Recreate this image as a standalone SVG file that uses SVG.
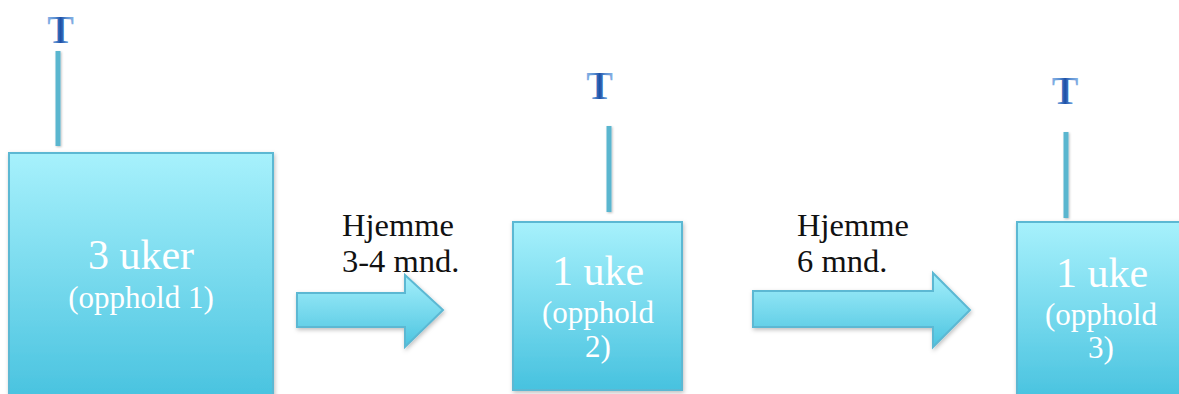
<svg xmlns="http://www.w3.org/2000/svg" width="1179" height="394" viewBox="0 0 1179 394">
<defs>
<linearGradient id="gBox" x1="0" y1="0" x2="0" y2="1">
<stop offset="0" stop-color="#a7f1fc"/>
<stop offset="1" stop-color="#47c2df"/>
</linearGradient>
<linearGradient id="gArr" x1="0" y1="0" x2="0" y2="1">
<stop offset="0" stop-color="#a4effb"/>
<stop offset="1" stop-color="#4cc4e0"/>
</linearGradient>
<linearGradient id="gT" x1="0" y1="0" x2="1" y2="0">
<stop offset="0" stop-color="#8ab4e6"/>
<stop offset="0.3" stop-color="#5a8fd2"/>
<stop offset="0.5" stop-color="#1d4fa6"/>
<stop offset="0.7" stop-color="#5a8fd2"/>
<stop offset="1" stop-color="#8ab4e6"/>
</linearGradient>
<filter id="sh" x="-10%" y="-10%" width="120%" height="120%">
<feDropShadow dx="1" dy="2" stdDeviation="2" flood-color="#000" flood-opacity="0.25"/>
</filter>
<filter id="shs" filterUnits="userSpaceOnUse" x="0" y="0" width="1179" height="394">
<feDropShadow dx="1" dy="1" stdDeviation="1" flood-color="#000" flood-opacity="0.25"/>
</filter>
<style>
.box{fill:url(#gBox);stroke:#5bb8d3;stroke-width:2;filter:url(#sh)}
.arr{fill:url(#gArr);stroke:#5bb8d3;stroke-width:2;filter:url(#sh)}
.stem{fill:#5ab6cf;filter:url(#shs)}
.t{font-family:"Liberation Serif",serif;font-weight:bold;font-size:40px;fill:url(#gT);text-anchor:middle}
.big{font-family:"Liberation Serif",serif;font-size:42px;fill:#fff;text-anchor:middle}
.small{font-family:"Liberation Serif",serif;font-size:31px;fill:#fff;text-anchor:middle}
.lbl{font-family:"Liberation Serif",serif;font-size:32.5px;fill:#111}
</style>
</defs>
<rect width="1179" height="394" fill="#fff"/>
<g id="node1">
<text class="t" x="60.5" y="43">T</text>
<rect class="stem" x="55.5" y="51" width="5" height="95"/>
<rect class="box" x="9" y="153" width="264" height="250"/>
<text class="big" x="141" y="269">3 uker</text>
<text class="small" x="141" y="308">(opphold 1)</text>
</g>
<g id="node2">
<text class="t" x="599.5" y="99">T</text>
<rect class="stem" x="606.5" y="126" width="5" height="86"/>
<rect class="box" x="513" y="222" width="169" height="168"/>
<text class="big" x="598" y="285">1 uke</text>
<text class="small" x="598" y="323">(opphold</text>
<text class="small" x="598" y="357">2)</text>
</g>
<g id="node3">
<text class="t" x="1065" y="104">T</text>
<rect class="stem" x="1063.5" y="132" width="5" height="86"/>
<rect class="box" x="1017" y="222" width="170" height="180"/>
<text class="big" x="1102" y="287">1 uke</text>
<text class="small" x="1101" y="325">(opphold</text>
<text class="small" x="1101" y="358">3)</text>
</g>
<g id="connectors">
<path class="arr" d="M297,293 H405 V275 L443,310 L405,347 V327 H297 Z"/>
<text class="lbl" x="342" y="236">Hjemme</text>
<text class="lbl" x="342" y="272">3-4 mnd.</text>
<path class="arr" d="M753,291 H933 V273 L970,310 L933,347 V327 H753 Z"/>
<text class="lbl" x="797" y="236">Hjemme</text>
<text class="lbl" x="797" y="272">6 mnd.</text>
</g>
</svg>
